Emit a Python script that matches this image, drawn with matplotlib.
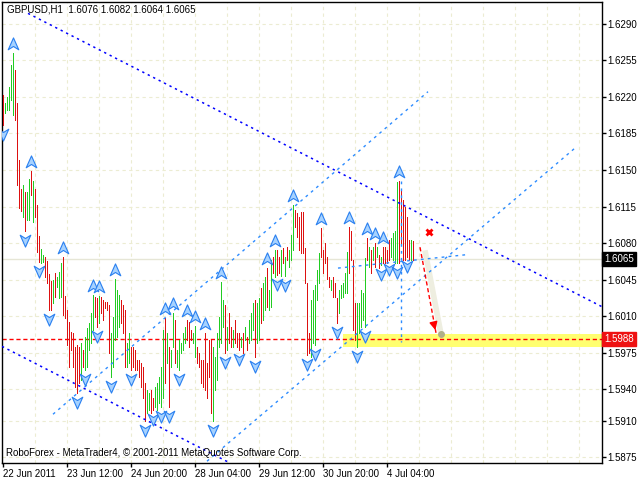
import numpy as np
import matplotlib
matplotlib.use('Agg')
import matplotlib.pyplot as plt
from matplotlib.path import Path
from matplotlib import transforms

plt.rcParams['font.family'] = ['Liberation Sans', 'DejaVu Sans']

# GBPUSD H1 bars (high / low), 'g' = up bar, 'r' = down bar
highs = [1.6222, 1.6214, 1.6220, 1.6229, 1.6251, 1.6262, 1.6246, 1.6214, 1.6160, 1.6132,
         1.6136, 1.6129, 1.6129, 1.6141, 1.6149, 1.6139, 1.6132, 1.6116, 1.6087, 1.6074,
         1.6069, 1.6067, 1.6063, 1.6050, 1.6044, 1.6045, 1.6051, 1.6047, 1.6052, 1.6061,
         1.6067, 1.6029, 1.6016, 1.6004, 1.5995, 1.5994, 1.5980, 1.5982, 1.5980, 1.5984,
         1.5978, 1.5990, 1.5999, 1.6003, 1.6013, 1.6030, 1.6028, 1.6027, 1.6029, 1.6028,
         1.6025, 1.6024, 1.6024, 1.6021, 1.5994, 1.6009, 1.6046, 1.6035, 1.6030, 1.6025,
         1.6021, 1.6016, 1.5984, 1.5994, 1.5980, 1.5980, 1.5978, 1.5968, 1.5968, 1.5965,
         1.5961, 1.5946, 1.5939, 1.5936, 1.5939, 1.5932, 1.5942, 1.5946, 1.5952, 1.5961,
         1.5997, 1.6008, 1.5994, 1.5980, 1.5978, 1.6013, 1.6006, 1.5978, 1.5987, 1.5984,
         1.5994, 1.6000, 1.6006, 1.6004, 1.5997, 1.5994, 1.6001, 1.5980, 1.5975, 1.5968,
         1.5968, 1.5994, 1.5965, 1.5987, 1.5987, 1.5980, 1.5971, 1.5994, 1.6009, 1.6043,
         1.6025, 1.6021, 1.6000, 1.6013, 1.6000, 1.5997, 1.6006, 1.5994, 1.5994, 1.5990,
         1.5994, 1.6000, 1.5990, 1.6006, 1.6013, 1.6023, 1.6025, 1.6023, 1.6027, 1.6037,
         1.6042, 1.6047, 1.6056, 1.6035, 1.6064, 1.6067, 1.6073, 1.6073, 1.6067, 1.6073,
         1.6075, 1.6067, 1.6076, 1.6073, 1.6088, 1.6116, 1.6112, 1.6109, 1.6105, 1.6110,
         1.6110, 1.6075, 1.6042, 1.5994, 1.6025, 1.6035, 1.6040, 1.6054, 1.6070, 1.6094,
         1.6073, 1.6080, 1.6067, 1.6047, 1.6045, 1.6047, 1.6042, 1.6027, 1.6035, 1.6040,
         1.6042, 1.6051, 1.6071, 1.6095, 1.6092, 1.6064, 1.6023, 1.6023, 1.6023, 1.6035,
         1.6032, 1.6066, 1.6085, 1.6076, 1.6073, 1.6076, 1.6080, 1.6076, 1.6069, 1.6067,
         1.6076, 1.6076, 1.6073, 1.6083, 1.6085, 1.6090, 1.6092, 1.6138, 1.6139, 1.6131,
         1.6121, 1.6115, 1.6105, 1.6083, 1.6083, 1.6082]
lows = [1.6193, 1.6205, 1.6207, 1.6207, 1.6217, 1.6203, 1.6198, 1.6136, 1.6114, 1.6111,
        1.6105, 1.6092, 1.6102, 1.6102, 1.6126, 1.6100, 1.6105, 1.6071, 1.6062, 1.6061,
        1.6062, 1.6047, 1.6042, 1.6016, 1.6016, 1.6023, 1.6028, 1.6038, 1.6027, 1.6028,
        1.6011, 1.6008, 1.5982, 1.5961, 1.5978, 1.5961, 1.5942, 1.5936, 1.5946, 1.5949,
        1.5961, 1.5958, 1.5961, 1.5978, 1.5984, 1.5997, 1.6009, 1.6000, 1.6003, 1.6013,
        1.6006, 1.6018, 1.6016, 1.5975, 1.5952, 1.5961, 1.5987, 1.5990, 1.6000, 1.6003,
        1.5994, 1.5961, 1.5961, 1.5965, 1.5958, 1.5961, 1.5958, 1.5958, 1.5952, 1.5942,
        1.5932, 1.5910, 1.5917, 1.5920, 1.5917, 1.5920, 1.5923, 1.5920, 1.5927, 1.5923,
        1.5932, 1.5946, 1.5965, 1.5923, 1.5961, 1.5980, 1.5965, 1.5961, 1.5958, 1.5975,
        1.5978, 1.5984, 1.5987, 1.5980, 1.5987, 1.5984, 1.5971, 1.5965, 1.5961, 1.5946,
        1.5942, 1.5939, 1.5932, 1.5952, 1.5917, 1.5910, 1.5939, 1.5949, 1.5980, 1.5984,
        1.6000, 1.5975, 1.5978, 1.5984, 1.5980, 1.5980, 1.5984, 1.5980, 1.5978, 1.5980,
        1.5975, 1.5987, 1.5978, 1.5984, 1.5987, 1.5997, 1.5971, 1.5984, 1.5987, 1.6003,
        1.6006, 1.6016, 1.6019, 1.6016, 1.6019, 1.6051, 1.6047, 1.6049, 1.6051, 1.6048,
        1.6061, 1.6048, 1.6064, 1.6057, 1.6064, 1.6073, 1.6095, 1.6086, 1.6073, 1.6070,
        1.6070, 1.6042, 1.5973, 1.5975, 1.5971, 1.5984, 1.5982, 1.6025, 1.6042, 1.6067,
        1.6051, 1.6061, 1.6046, 1.6038, 1.6035, 1.6028, 1.6028, 1.6003, 1.6013, 1.6027,
        1.6028, 1.6032, 1.6032, 1.6051, 1.6064, 1.5997, 1.5987, 1.5980, 1.5994, 1.6000,
        1.6006, 1.6000, 1.6064, 1.6057, 1.6051, 1.6064, 1.6057, 1.6067, 1.6056, 1.6059,
        1.6061, 1.6061, 1.6061, 1.6064, 1.6067, 1.6064, 1.6061, 1.6061, 1.6061, 1.6078,
        1.6064, 1.6064, 1.6067, 1.6064, 1.6064, 1.6064]
bar_dir = ("rgggggrrrr" "grggrgrrrg" "grrrrgrggg" "rrrrrrrrrg" "rgggggrrgr"
           "rrrrgggggr" "rrggrrrrrr" "rrggrrgggg" "grgrggrggg" "ggrrrggrrr"
           "rrrrrggggg" "grgrrgrrrg" "rgrgggrggr" "ggrggrgrrg" "rgrgggrrrr"
           "rrrrgggggr" "rrrrgrrrgg" "gggrrrrggg" "ggrgrgrgrg" "rrrrggggrr"
           "rrrrgr")

# fractal arrows (bar index)
up_fractals = [5, 14, 30, 45, 48, 56, 81, 85, 92, 96, 101, 109, 132, 136, 145, 159,
               173, 182, 186, 190, 198]
down_fractals = [0, 11, 18, 23, 37, 41, 47, 54, 64, 71, 75, 79, 83, 88, 105, 111, 118,
                 126, 137, 141, 152, 156, 167, 177, 181, 189, 193, 197, 202]

price_ticks = [1.6290, 1.6255, 1.6220, 1.6185, 1.6150, 1.6115, 1.6080, 1.6045,
               1.6010, 1.5975, 1.5940, 1.5910, 1.5875]
time_ticks = [0, 32, 64, 96, 128, 160, 192]
time_labels = ['22 Jun 2011', '23 Jun 12:00', '24 Jun 20:00', '28 Jun 04:00',
               '29 Jun 12:00', '30 Jun 20:00', '4 Jul 04:00']

# drawn objects: (bar index, price) end points
dark_lines = [[(12.5, 1.6300), (299.5, 1.6019)],
              [(-0.5, 1.5981), (113.5, 1.58693)]]
channel_lines = [[(25, 1.5916), (212.5, 1.6225)],
                 [(102, 1.5871), (286, 1.6171)],
                 [(167.5, 1.6056), (232.5, 1.6069)],
                 [(199, 1.6139), (199, 1.5985)]]
bid_price = 1.6065
target_price = 1.5988
zone_top, zone_bottom, zone_start = 1.5993, 1.5980, 170
arrow_start = (208.5, 1.6076)
arrow_end = (216.5, 1.5994)
cross_point = (213, 1.6091)

fig = plt.figure(figsize=(6.4, 4.8), dpi=100)
ax = fig.add_axes([2 / 640, 17 / 480, 600 / 640, 461 / 480])
ax.set_xlim(-0.5, 299.5)
ax.set_ylim(1.58693, 1.63109)

grid_col = '#ECECD2'
for p in price_ticks:
    ax.axhline(p, color=grid_col, lw=0.8, ls=(0, (3, 3)), zorder=0)
for gx in range(16, 300, 16):
    ax.axvline(gx, color=grid_col, lw=0.8, ls=(0, (3, 3)), zorder=0)

# bid line and target zone
ax.axhline(bid_price, color='#E6E6D6', lw=1, zorder=1)
ax.fill_between([zone_start, 299.5], zone_bottom, zone_top, color='#FFFF70', lw=0, zorder=1)
ax.axhline(target_price, color='red', lw=1, ls=(0, (3, 2)), zorder=2)

# bars, one pixel wide
x = np.arange(len(highs))
cols = ['#22CC22' if d == 'g' else '#DD1111' for d in bar_dir]
ax.vlines(x, lows, highs, colors=cols, lw=0.72, antialiased=False, zorder=3)

# trend lines
for (x0, y0), (x1, y1) in dark_lines:
    ax.plot([x0, x1], [y0, y1], color='#0000FF', lw=1.1, ls=(0, (1.5, 2.5)), zorder=4)
for (x0, y0), (x1, y1) in channel_lines:
    ax.plot([x0, x1], [y0, y1], color='#2D8CFF', lw=1.0, ls=(0, (2, 3)), zorder=4)

# forecast arrow
ax.plot([arrow_start[0] + 2.5, arrow_end[0] + 2.5], [arrow_start[1] - 0.0003, arrow_end[1] - 0.0001],
        color='#EEEEE0', lw=4, solid_capstyle='butt', zorder=2)
ax.plot([arrow_start[0], arrow_end[0]], [arrow_start[1], arrow_end[1]],
        color='red', lw=1, ls=(0, (3, 2)), zorder=5)
ax.annotate('', xy=arrow_end, xytext=(arrow_end[0] - 1, arrow_end[1] + 0.0008),
            arrowprops=dict(arrowstyle='-|>', color='red', lw=1, mutation_scale=12), zorder=5)
ax.plot(arrow_end[0] + 2.5, arrow_end[1] - 0.0001, 'o', color='#B0B088', ms=4, zorder=5)
ax.plot(*cross_point, marker='x', color='red', ms=4.5, mew=2, zorder=5)

# fractal arrows
up_arrow = Path([(0, 1), (0.8, -0.8), (0, -0.3), (-0.8, -0.8), (0, 1)],
                [Path.MOVETO, Path.LINETO, Path.LINETO, Path.LINETO, Path.CLOSEPOLY])
down_arrow = Path([(0, -1), (0.8, 0.8), (0, 0.3), (-0.8, 0.8), (0, -1)],
                  [Path.MOVETO, Path.LINETO, Path.LINETO, Path.LINETO, Path.CLOSEPOLY])
up_tr = transforms.offset_copy(ax.transData, fig=fig, y=9, units='dots')
dn_tr = transforms.offset_copy(ax.transData, fig=fig, y=-9, units='dots')
ax.plot(up_fractals, [highs[i] for i in up_fractals], ls='none', marker=up_arrow, ms=9.5,
        mfc='#A6D2FF', mec='#2A80F0', mew=0.8, transform=up_tr, zorder=6)
ax.plot(down_fractals, [lows[i] for i in down_fractals], ls='none', marker=down_arrow, ms=9.5,
        mfc='#A6D2FF', mec='#2A80F0', mew=0.8, transform=dn_tr, zorder=6)

# axes styling
for s in ax.spines.values():
    s.set_color('black')
    s.set_linewidth(1)
ax.yaxis.tick_right()
ax.set_yticks(price_ticks)
ax.set_yticklabels(['%.4f' % p for p in price_ticks])
ax.set_xticks(time_ticks)
ax.set_xticklabels(time_labels, ha='left')
ax.tick_params(axis='both', direction='out', length=3, width=1, labelsize=7, colors='black')
ax.tick_params(axis='x', pad=1)
ax.tick_params(axis='y', pad=1)

# right side price labels
lbl_tr = transforms.blended_transform_factory(ax.transAxes, ax.transData)
ax.text(1.004, bid_price, '1.6065', transform=lbl_tr, ha='left', va='center', fontsize=7,
        color='white', bbox=dict(boxstyle='square,pad=0.2', fc='black', ec='black'))
ax.text(1.004, target_price, '1.5988', transform=lbl_tr, ha='left', va='center', fontsize=7,
        color='white', bbox=dict(boxstyle='square,pad=0.2', fc='#EE1111', ec='#EE1111'))

fig.text(7 / 640, 1 - 10 / 480, 'GBPUSD,H1  1.6076 1.6082 1.6064 1.6065', fontsize=7,
         va='center', ha='left')
fig.text(6 / 640, 1 - 453 / 480, 'RoboForex - MetaTrader4, \u00a9 2001-2011 MetaQuotes Software Corp.',
         fontsize=7, va='center', ha='left')

fig.savefig('out.png', dpi=100)
